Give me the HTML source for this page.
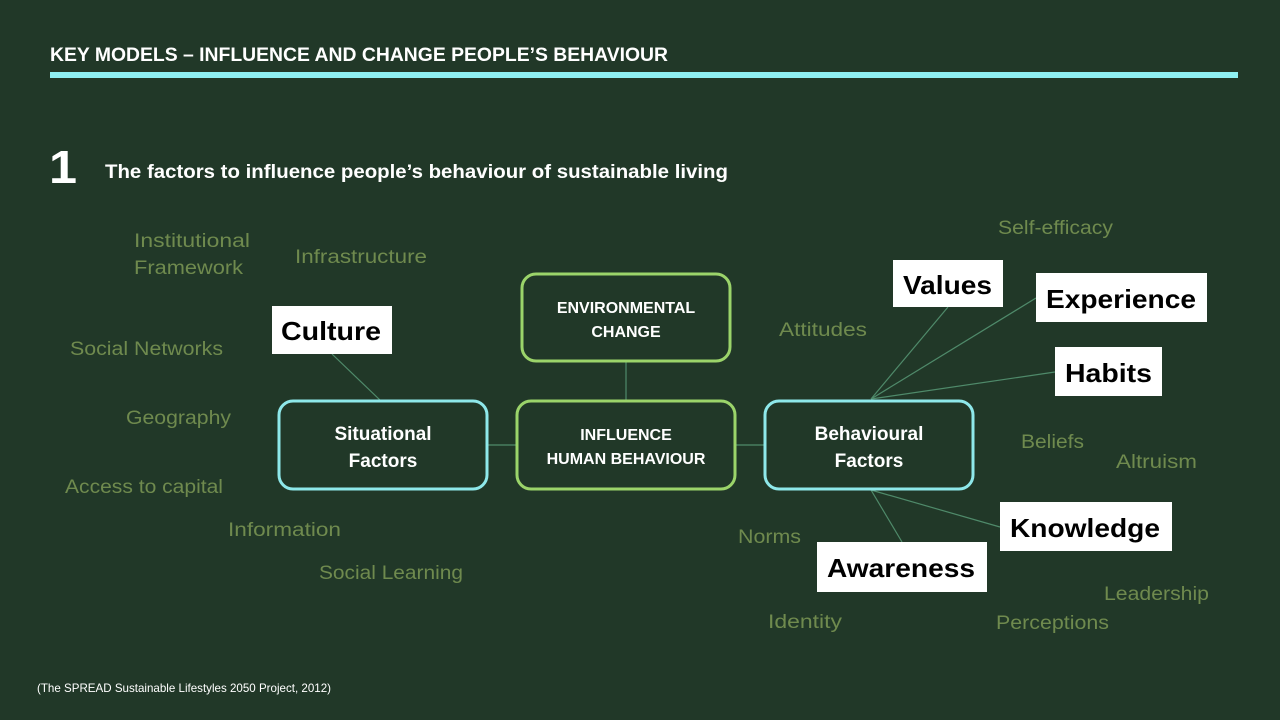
<!DOCTYPE html>
<html><head><meta charset="utf-8"><style>
html,body{margin:0;padding:0;background:#213828;}
svg{display:block;font-family:"Liberation Sans",sans-serif;}
.g{fill:#6f8a4e;font-size:19px;}
.b{fill:#000;font-size:26px;font-weight:bold;}
.w{fill:#fff;font-weight:bold;}
</style></head><body>
<svg width="1280" height="720" viewBox="0 0 1280 720">
<rect width="1280" height="720" fill="#213828"/>
<text x="50" y="61" class="w" font-size="19" textLength="618" lengthAdjust="spacingAndGlyphs">KEY MODELS – INFLUENCE AND CHANGE PEOPLE’S BEHAVIOUR</text>
<rect x="50" y="72" width="1188" height="6" fill="#8ef0f2"/>
<text x="49" y="183" class="w" font-size="46" textLength="28" lengthAdjust="spacingAndGlyphs">1</text>
<text x="105" y="178" class="w" font-size="19" textLength="623" lengthAdjust="spacingAndGlyphs">The factors to influence people’s behaviour of sustainable living</text>

<g class="g">
<text x="134" y="247" textLength="116" lengthAdjust="spacingAndGlyphs">Institutional</text>
<text x="134" y="274" textLength="109" lengthAdjust="spacingAndGlyphs">Framework</text>
<text x="295" y="263" textLength="132" lengthAdjust="spacingAndGlyphs">Infrastructure</text>
<text x="70" y="355" textLength="153" lengthAdjust="spacingAndGlyphs">Social Networks</text>
<text x="126" y="424" textLength="105" lengthAdjust="spacingAndGlyphs">Geography</text>
<text x="65" y="493" textLength="158" lengthAdjust="spacingAndGlyphs">Access to capital</text>
<text x="228" y="536" textLength="113" lengthAdjust="spacingAndGlyphs">Information</text>
<text x="319" y="579" textLength="144" lengthAdjust="spacingAndGlyphs">Social Learning</text>
<text x="998" y="234" textLength="115" lengthAdjust="spacingAndGlyphs">Self-efficacy</text>
<text x="779" y="336" textLength="88" lengthAdjust="spacingAndGlyphs">Attitudes</text>
<text x="1021" y="448" textLength="63" lengthAdjust="spacingAndGlyphs">Beliefs</text>
<text x="1116" y="468" textLength="81" lengthAdjust="spacingAndGlyphs">Altruism</text>
<text x="738" y="543" textLength="63" lengthAdjust="spacingAndGlyphs">Norms</text>
<text x="768" y="628" textLength="74" lengthAdjust="spacingAndGlyphs">Identity</text>
<text x="996" y="629" textLength="113" lengthAdjust="spacingAndGlyphs">Perceptions</text>
<text x="1104" y="600" textLength="105" lengthAdjust="spacingAndGlyphs">Leadership</text>
</g>

<g stroke="#4f8a6a" stroke-width="1.2" fill="none">
<line x1="332" y1="354" x2="381" y2="401"/>
<line x1="626" y1="361" x2="626" y2="401"/>
<line x1="487" y1="445" x2="517" y2="445"/>
<line x1="735" y1="445" x2="765" y2="445"/>
<line x1="871" y1="399" x2="948" y2="307"/>
<line x1="871" y1="399" x2="1036" y2="298"/>
<line x1="871" y1="399" x2="1055" y2="372"/>
<line x1="871" y1="490" x2="1000" y2="527"/>
<line x1="871" y1="490" x2="902" y2="542"/>
</g>

<g stroke-width="3" fill="#213828">
<rect x="522" y="274" width="208" height="87" rx="14" stroke="#9bd46a"/>
<rect x="517" y="401" width="218" height="88" rx="14" stroke="#9bd46a"/>
<rect x="279" y="401" width="208" height="88" rx="14" stroke="#8ee8ea"/>
<rect x="765" y="401" width="208" height="88" rx="14" stroke="#8ee8ea"/>
</g>
<g class="w" text-anchor="middle">
<text x="626" y="313" font-size="16">ENVIRONMENTAL</text>
<text x="626" y="337" font-size="16">CHANGE</text>
<text x="626" y="440" font-size="16">INFLUENCE</text>
<text x="626" y="464" font-size="16">HUMAN BEHAVIOUR</text>
<text x="383" y="440" font-size="19">Situational</text>
<text x="383" y="467" font-size="19">Factors</text>
<text x="869" y="440" font-size="19">Behavioural</text>
<text x="869" y="467" font-size="19">Factors</text>
</g>

<g fill="#fff">
<rect x="272" y="306" width="120" height="48"/>
<rect x="893" y="260" width="110" height="47"/>
<rect x="1036" y="273" width="171" height="49"/>
<rect x="1055" y="347" width="107" height="49"/>
<rect x="1000" y="502" width="172" height="49"/>
<rect x="817" y="542" width="170" height="50"/>
</g>
<g class="b">
<text x="281" y="340" textLength="100" lengthAdjust="spacingAndGlyphs">Culture</text>
<text x="903" y="294" textLength="89" lengthAdjust="spacingAndGlyphs">Values</text>
<text x="1046" y="308" textLength="150" lengthAdjust="spacingAndGlyphs">Experience</text>
<text x="1065" y="382" textLength="87" lengthAdjust="spacingAndGlyphs">Habits</text>
<text x="1010" y="537" textLength="150" lengthAdjust="spacingAndGlyphs">Knowledge</text>
<text x="827" y="577" textLength="148" lengthAdjust="spacingAndGlyphs">Awareness</text>
</g>

<text x="37" y="692" fill="#fff" font-size="12" textLength="294" lengthAdjust="spacingAndGlyphs">(The SPREAD Sustainable Lifestyles 2050 Project, 2012)</text>
</svg>
</body></html>
